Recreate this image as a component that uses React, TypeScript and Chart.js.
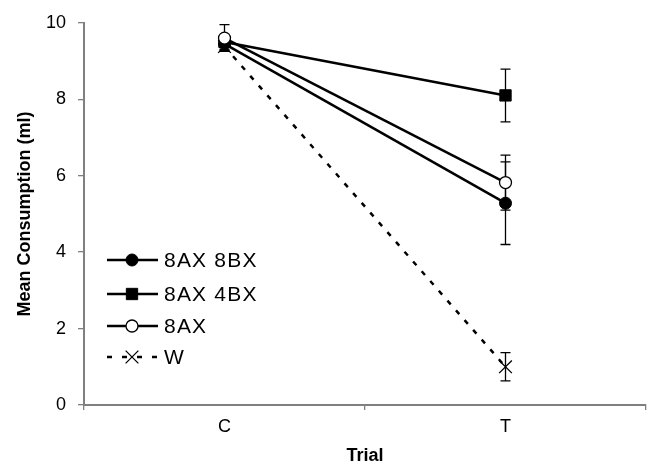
import React, { useEffect, useRef } from 'react';
import { Chart, registerables } from 'chart.js';

Chart.register(...registerables);

const categories = ['C', 'T'];
const seriesNames = ['8AX 8BX', '8AX 4BX', '8AX', 'W'];
const values8AX8BX = [9.45, 5.28];
const errors8AX8BX = [0.15, 1.08];
const values8AX4BX = [9.5, 8.1];
const errors8AX4BX = [0.15, 0.69];
const values8AX = [9.6, 5.82];
const errors8AX = [0.35, 0.72];
const valuesW = [9.38, 1.0];
const errorsW = [0.1, 0.37];
const yTickValues = [0, 2, 4, 6, 8, 10];

const AXIS_GREY = '#808080';
const FONT = "'Liberation Sans', Arial, Helvetica, sans-serif";

function drawMarker(ctx: CanvasRenderingContext2D, style: string, x: number, y: number, r: number, fill: string, stroke: string, bw: number) {
  ctx.save();
  ctx.setLineDash([]);
  ctx.lineWidth = bw;
  ctx.strokeStyle = stroke;
  ctx.fillStyle = fill;
  ctx.beginPath();
  if (style === 'circle') {
    ctx.arc(x, y, r, 0, Math.PI * 2);
    ctx.fill();
    ctx.stroke();
  } else if (style === 'rect') {
    const s = Math.SQRT1_2 * r;
    ctx.rect(x - s, y - s, 2 * s, 2 * s);
    ctx.fill();
    ctx.stroke();
  } else if (style === 'crossRot') {
    const o = Math.SQRT1_2 * r;
    ctx.moveTo(x - o, y - o);
    ctx.lineTo(x + o, y + o);
    ctx.moveTo(x - o, y + o);
    ctx.lineTo(x + o, y - o);
    ctx.stroke();
  }
  ctx.restore();
}

const errorBarPlugin = {
  id: 'errorBars',
  beforeDatasetsDraw(chart: any) {
    const ctx = chart.ctx as CanvasRenderingContext2D;
    const yScale = chart.scales.y;
    chart.data.datasets.forEach((ds: any, di: number) => {
      const meta = chart.getDatasetMeta(di);
      const errs: number[] = ds.errors || [];
      meta.data.forEach((pt: any, i: number) => {
        const v = ds.data[i];
        const e = errs[i];
        if (e == null) return;
        const yTop = yScale.getPixelForValue(v + e);
        const yBot = yScale.getPixelForValue(v - e);
        const x = pt.x;
        ctx.save();
        ctx.strokeStyle = '#000';
        ctx.lineWidth = 1.3;
        ctx.beginPath();
        ctx.moveTo(x, yTop);
        ctx.lineTo(x, yBot);
        ctx.moveTo(x - 5, yTop);
        ctx.lineTo(x + 5, yTop);
        ctx.moveTo(x - 5, yBot);
        ctx.lineTo(x + 5, yBot);
        ctx.stroke();
        ctx.restore();
      });
    });
  },
};

const legendPlugin = {
  id: 'customLegend',
  afterDraw(chart: any) {
    const ctx = chart.ctx as CanvasRenderingContext2D;
    const rows = [260, 294, 326, 357];
    chart.data.datasets.forEach((ds: any, di: number) => {
      const y = rows[di];
      ctx.save();
      ctx.strokeStyle = '#000';
      ctx.lineWidth = 2.5;
      ctx.setLineDash(ds.borderDash ? [5, 10] : []);
      ctx.beginPath();
      ctx.moveTo(107, y);
      ctx.lineTo(158, y);
      ctx.stroke();
      ctx.restore();
      drawMarker(ctx, ds.pointStyle, 132, y, ds.pointRadius, ds.pointBackgroundColor, ds.pointBorderColor, ds.pointBorderWidth);
      ctx.save();
      ctx.fillStyle = '#000';
      ctx.font = `21px ${FONT}`;
      try { (ctx as any).letterSpacing = '1.2px'; } catch (e) { /* ignore */ }
      ctx.textBaseline = 'middle';
      ctx.textAlign = 'left';
      ctx.fillText(ds.label, 164, y + 1);
      ctx.restore();
    });
  },
};

export default function App() {
  const ref = useRef<HTMLCanvasElement | null>(null);
  useEffect(() => {
    if (!ref.current) return;
    const chart = new Chart(ref.current, {
      type: 'line',
      data: {
        labels: categories,
        datasets: [
          {
            label: seriesNames[0],
            data: values8AX8BX,
            errors: errors8AX8BX,
            borderColor: '#000',
            borderWidth: 2.5,
            pointStyle: 'circle',
            pointRadius: 6,
            pointBackgroundColor: '#000',
            pointBorderColor: '#000',
            pointBorderWidth: 1,
            order: 2,
          } as any,
          {
            label: seriesNames[1],
            data: values8AX4BX,
            errors: errors8AX4BX,
            borderColor: '#000',
            borderWidth: 2.5,
            pointStyle: 'rect',
            pointRadius: 8,
            pointBackgroundColor: '#000',
            pointBorderColor: '#000',
            pointBorderWidth: 1,
            order: 1,
          } as any,
          {
            label: seriesNames[2],
            data: values8AX,
            errors: errors8AX,
            borderColor: '#000',
            borderWidth: 2.5,
            pointStyle: 'circle',
            pointRadius: 6,
            pointBackgroundColor: '#fff',
            pointBorderColor: '#000',
            pointBorderWidth: 1.3,
            order: 0,
          } as any,
          {
            label: seriesNames[3],
            data: valuesW,
            errors: errorsW,
            borderColor: '#000',
            borderWidth: 2.5,
            borderDash: [5, 8],
            pointStyle: 'crossRot',
            pointRadius: 9,
            pointBackgroundColor: '#000',
            pointBorderColor: '#000',
            pointBorderWidth: 1.3,
            order: 3,
          } as any,
        ],
      },
      options: {
        responsive: false,
        animation: false,
        devicePixelRatio: 1,
        layout: { autoPadding: false, padding: { top: 16, right: 3, left: 0, bottom: 0 } },
        plugins: { legend: { display: false }, tooltip: { enabled: false } },
        scales: {
          x: {
            type: 'category',
            offset: true,
            grid: { offset: true, drawOnChartArea: false, color: AXIS_GREY, tickLength: 5, lineWidth: 1.3 },
            border: { color: AXIS_GREY, width: 2 },
            ticks: { color: '#000', font: { family: FONT, size: 18 }, padding: 6 },
            title: { display: true, text: 'Trial', color: '#000', font: { family: FONT, size: 18, weight: 'bold', lineHeight: 1 }, padding: { top: 0, bottom: 0 } },
            afterFit: (s: any) => { s.height = 60; },
          },
          y: {
            min: 0,
            max: 10,
            afterBuildTicks: (s: any) => { s.ticks = yTickValues.map((v) => ({ value: v })); },
            grid: { drawOnChartArea: false, color: AXIS_GREY, tickLength: 6, lineWidth: 1.3 },
            border: { color: AXIS_GREY, width: 2 },
            ticks: { color: '#000', font: { family: FONT, size: 18 }, padding: 12 },
            title: { display: true, text: 'Mean Consumption (ml)', color: '#000', font: { family: FONT, size: 18, weight: 'bold', lineHeight: 1 }, padding: { top: 16, bottom: 0 } },
            afterFit: (s: any) => { s.width = 84; },
          },
        },
      } as any,
      plugins: [errorBarPlugin, legendPlugin],
    });
    return () => chart.destroy();
  }, []);
  return (
    <div style={{ position: 'absolute', left: 0, top: 0, width: 649, height: 465, background: '#fff' }}>
      <canvas ref={ref} width={649} height={465} />
    </div>
  );
}
